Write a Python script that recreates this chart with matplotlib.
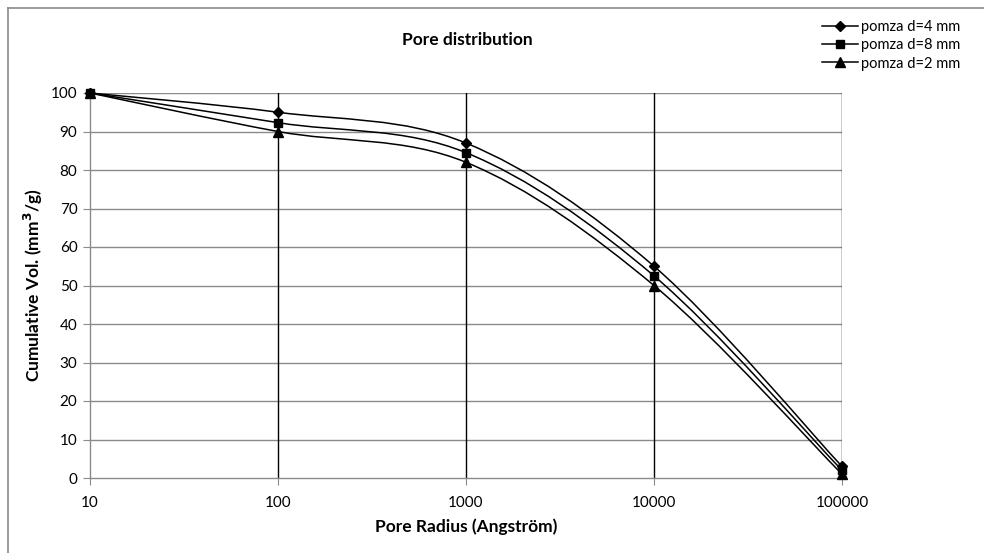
import matplotlib
matplotlib.use('Agg')
import matplotlib.pyplot as plt
import numpy as np
from matplotlib.path import Path
from matplotlib.patches import PathPatch
from matplotlib.lines import Line2D

plt.rcParams['font.family'] = ['Lato', 'DejaVu Sans']

radius = [10, 100, 1000, 10000, 100000]
vol_d4 = [100, 95, 87, 55, 3]
vol_d8 = [100, 92.3, 84.5, 52.5, 2]
vol_d2 = [100, 90, 82, 50, 1]

series = [
    ('pomza d=4 mm', vol_d4, 'D', 5),
    ('pomza d=8 mm', vol_d8, 's', 5.5),
    ('pomza d=2 mm', vol_d2, '^', 6.5),
]


def smooth_path(xs, ys):
    # excel-style smoothed line: cubic bezier through the points,
    # control points from neighbours (tension 1/6), in log-x space
    lx = np.log10(xs)
    ys = np.asarray(ys, dtype=float)
    pts = np.column_stack([lx, ys])
    n = len(pts)
    verts = [pts[0]]
    codes = [Path.MOVETO]
    for i in range(n - 1):
        p0 = pts[max(i - 1, 0)]
        p1 = pts[i]
        p2 = pts[i + 1]
        p3 = pts[min(i + 2, n - 1)]
        c1 = p1 + (p2 - p0) / 6.0
        c2 = p2 - (p3 - p1) / 6.0
        verts += [c1, c2, p2]
        codes += [Path.CURVE4] * 3
    verts = np.array(verts)
    verts[:, 0] = 10 ** verts[:, 0]
    return Path(verts, codes)


fig = plt.figure(figsize=(9.84, 5.53), dpi=100)
ax = fig.add_axes([90 / 984, 1 - 478 / 553, (842 - 90) / 984, (478 - 93) / 553])

ax.set_xscale('log')
ax.set_xlim(10, 100000)
ax.set_ylim(0, 100)
ax.set_yticks(range(0, 101, 10))
ax.set_xticks(radius)
ax.set_xticklabels([str(r) for r in radius])
ax.minorticks_off()

# gridlines
for yv in range(10, 101, 10):
    ax.axhline(yv, color='#8a8a8a', lw=1.0, zorder=1)
for xv in radius[1:]:
    ax.axvline(xv, color='black', lw=1.0, zorder=1)

for label, vals, mk, ms in series:
    patch = PathPatch(smooth_path(radius, vals), facecolor='none',
                      edgecolor='black', lw=1.1, zorder=3, clip_on=False)
    ax.add_patch(patch)
    ax.plot(radius, vals, linestyle='none', marker=mk, color='black',
            markersize=ms, zorder=4, clip_on=False)

for s in ['top', 'right']:
    ax.spines[s].set_visible(False)
for s in ['left', 'bottom']:
    ax.spines[s].set_color('#8a8a8a')
    ax.spines[s].set_linewidth(1.0)
ax.tick_params(axis='both', direction='out', length=5, color='#8a8a8a',
               labelsize=11, labelcolor='black')
ax.tick_params(axis='x', pad=8)
ax.tick_params(axis='y', pad=4)

ax.text(0.5, (478 - 527) / 385, 'Pore Radius (Angström)', transform=ax.transAxes,
        fontsize=12.5, fontweight='bold', ha='center', va='center')
ax.text((33 - 90) / 752, 0.5, 'Cumulative Vol. (mm$^\\mathbf{3}$/g)',
        transform=ax.transAxes, rotation=90, fontsize=12.5, fontweight='bold',
        ha='center', va='center')
fig.text(467 / 984, 1 - 40 / 553, 'Pore distribution', fontsize=12.5,
         fontweight='bold', ha='center', va='center')

handles = [Line2D([], [], color='black', lw=1.1, marker=mk, markersize=ms)
           for _, _, mk, ms in series]
fig.legend(handles, [s[0] for s in series], loc='upper left',
           bbox_to_anchor=(816 / 984, 1 - 14 / 553), frameon=False,
           fontsize=10.5, handlelength=2.5, handletextpad=0.2, labelspacing=0.3,
           borderaxespad=0)

# outer chart border (left and top visible)
fig.add_artist(Line2D([8 / 984, 8 / 984], [0, 1 - 8 / 553], color='#8a8a8a',
                      lw=1.2, transform=fig.transFigure))
fig.add_artist(Line2D([8 / 984, 1], [1 - 8 / 553, 1 - 8 / 553], color='#8a8a8a',
                      lw=1.2, transform=fig.transFigure))

fig.savefig('out.png', dpi=100)
